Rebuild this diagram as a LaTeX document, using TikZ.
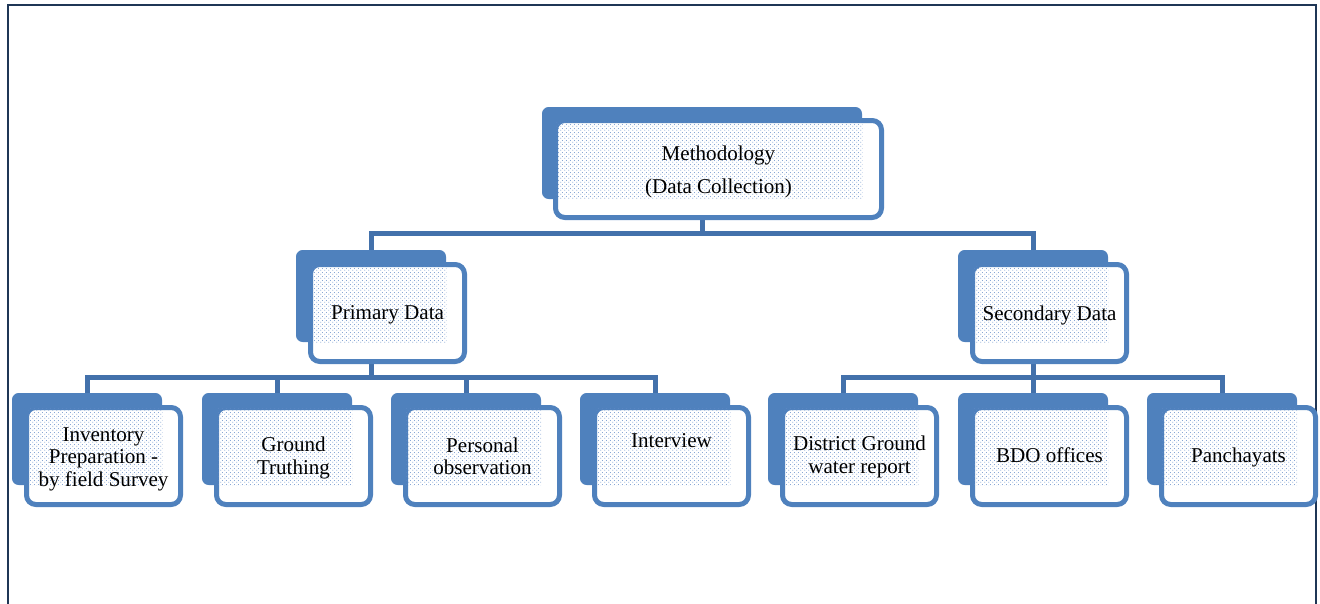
\documentclass[tikz,border=0pt]{standalone}
\usepackage{fontspec}
\setmainfont{Liberation Serif}
\usetikzlibrary{patterns,calc}
\definecolor{boxblue}{HTML}{4F81BD}
\definecolor{linkblue}{HTML}{4371AB}
\definecolor{dotblue}{HTML}{5F88C6}
\definecolor{framenavy}{HTML}{1F3656}
\pgfdeclarepatternformonly{bluedots}{\pgfpointorigin}{\pgfpoint{3pt}{3pt}}{\pgfpoint{3pt}{3pt}}{%
  \pgfpathcircle{\pgfpoint{0.75pt}{0.75pt}}{0.42pt}%
  \pgfpathcircle{\pgfpoint{2.25pt}{2.25pt}}{0.42pt}%
  \pgfusepath{fill}}

\begin{document}
\begin{tikzpicture}[x=0.75pt,y=0.75pt,yscale=-1,xscale=1,
  backbox/.style={fill=boxblue, rounded corners=5pt, inner sep=0pt, minimum width=112.5pt, minimum height=69pt},
  frontbox/.style={draw=boxblue, line width=3.75pt, fill=white, rounded corners=7pt, inner sep=0pt, minimum width=115.5pt, minimum height=72.75pt},
  dotfill/.style={pattern=bluedots, pattern color=dotblue},
  boxtext/.style={align=center, inner sep=0pt, font=\fontsize{15.8}{16.8}\selectfont},
  link/.style={draw=linkblue, line width=3.75pt}]
\useasboundingbox (0,0) rectangle (1320,603);

%Frame
\draw[framenavy, line width=1.5pt] (8,610) -- (8,5) -- (1316,5) -- (1316,610);

%Back Shapes
\node[backbox, minimum width=240pt] (bm) at (702,153) {};
\node[backbox] (bp) at (371,296) {};
\node[backbox] (bs) at (1033,296) {};
\node[backbox] (b1) at (87,439) {};
\node[backbox] (b2) at (277,439) {};
\node[backbox] (b3) at (466,439) {};
\node[backbox] (b4) at (655,439) {};
\node[backbox] (b5) at (843,439) {};
\node[backbox] (b6) at (1033,439) {};
\node[backbox] (b7) at (1222,439) {};

%Connectors
\coordinate (mbar) at (702,233);
\coordinate (pbar) at (371,377);
\coordinate (sbar) at (1033,377);
\draw[link] (bm.south) -- (mbar);
\draw[link] (bp.north) |- (mbar) -| (bs.north);
\draw[link] (bp.south) -- (pbar);
\draw[link] (b1.north) |- (pbar) -| (b4.north);
\draw[link] (b2.north) -- (b2.north |- pbar);
\draw[link] (b3.north) -- (b3.north |- pbar);
\draw[link] (bs.south) -- (sbar);
\draw[link] (b5.north) |- (sbar) -| (b7.north);
\draw[link] (b6.north) -- (b6.north |- sbar);

%Front Shapes
\node[frontbox, minimum width=244.5pt] (fm) at (718.5,169) {};
\node[frontbox] (fp) at (387.5,313) {};
\node[frontbox] (fs) at (1049.5,313) {};
\node[frontbox] (f1) at (103.5,456) {};
\node[frontbox] (f2) at (293.5,456) {};
\node[frontbox] (f3) at (482.5,456) {};
\node[frontbox] (f4) at (671.5,456) {};
\node[frontbox] (f5) at (859.5,456) {};
\node[frontbox] (f6) at (1049.5,456) {};
\node[frontbox] (f7) at (1238.5,456) {};

%Dotted Fill
\path[dotfill] ($(fm.north west)+(3,3)$) rectangle (bm.south east);
\path[dotfill] ($(fp.north west)+(3,3)$) rectangle (bp.south east);
\path[dotfill] ($(fs.north west)+(3,3)$) rectangle (bs.south east);
\path[dotfill] ($(f1.north west)+(3,3)$) rectangle (b1.south east);
\path[dotfill] ($(f2.north west)+(3,3)$) rectangle (b2.south east);
\path[dotfill] ($(f3.north west)+(3,3)$) rectangle (b3.south east);
\path[dotfill] ($(f4.north west)+(3,3)$) rectangle (b4.south east);
\path[dotfill] ($(f5.north west)+(3,3)$) rectangle (b5.south east);
\path[dotfill] ($(f6.north west)+(3,3)$) rectangle (b6.south east);
\path[dotfill] ($(f7.north west)+(3,3)$) rectangle (b7.south east);

% Text Node
\node[boxtext] (tm) at ($(fm.center)+(0,3)$) {Methodology\\[7.5pt](Data Collection)};
\node[boxtext] (tp) at ($(fp.center)+(0,2)$) {Primary Data};
\node[boxtext] (ts) at ($(fs.center)+(0,2)$) {Secondary Data};
\node[boxtext] (t1) at ($(f1.center)+(0,3)$) {Inventory\\Preparation -\\by field Survey};
\node[boxtext] (t2) at ($(f2.center)+(0,2)$) {Ground\\Truthing};
\node[boxtext] (t3) at (f3.center) {Personal\\observation};
\node[boxtext] (t4) at ($(f4.center)+(0,-15)$) {Interview};
\node[boxtext] (t5) at ($(f5.center)+(0,1)$) {District Ground\\water report};
\node[boxtext] (t6) at ($(f6.center)+(0,-1)$) {BDO offices};
\node[boxtext] (t7) at ($(f7.center)+(0,1)$) {Panchayats};

\end{tikzpicture}
\end{document}
